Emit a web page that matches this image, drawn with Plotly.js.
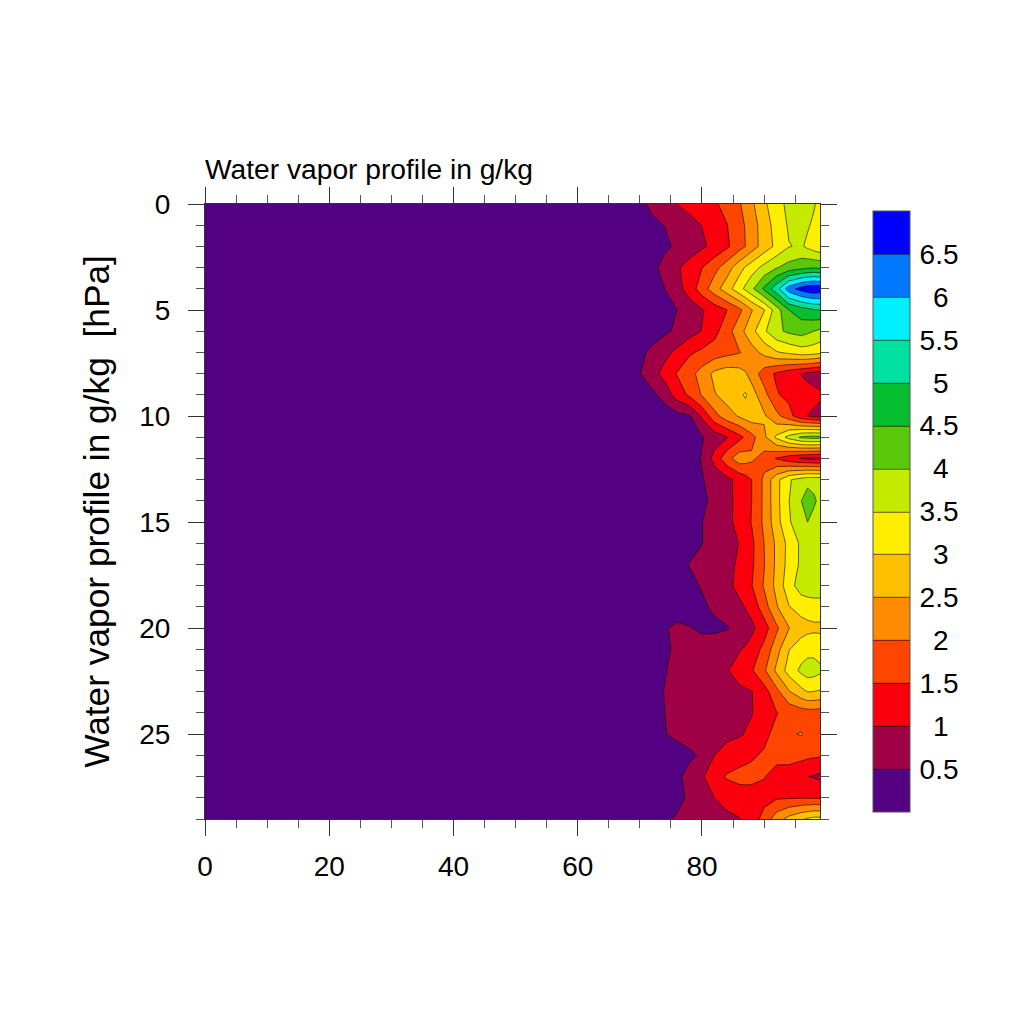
<!DOCTYPE html>
<html>
<head>
<meta charset="utf-8">
<script src="https://cdn.plot.ly/plotly-3.0.1.min.js"></script>
<style>html,body{margin:0;padding:0;background:#fff}</style>
</head>
<body>
<div id="chart" style="width:1024px;height:1024px"></div>
<script>
const xValues = [0,60,68,70,72,74,76,78,80,82,84,86,87,88,90,92,94,96,97,98,99];
const yValues = [0,1,2,3,4,5,6,7,8,9,10,11,12,13,14,15,16,17,18,19,20,21,22,23,24,25,26,27,28,29];
const row00 = [.02,.05,.2,.4,.59,.8,1.01,1.15,1.29,1.43,1.66,1.95,2.15,2.41,2.89,3.35,3.6,3.75,3.68,3.55,3.35];
const row01 = [.02,.05,.15,.3,.42,.51,.68,.84,1.01,1.24,1.48,1.83,2.03,2.26,2.75,3.2,3.56,3.65,3.55,3.42,3.3];
const row02 = [.02,.05,.1,.2,.3,.42,.57,.74,.92,1.14,1.41,1.8,2,2.25,2.72,3.12,3.48,3.56,3.4,3.25,3.12];
const row03 = [.02,.05,.15,.25,.38,.65,.93,1.2,1.49,1.83,2.26,2.8,3.05,3.27,3.65,3.97,4.2,4.35,4.42,4.45,4.42];
const row04 = [.02,.05,.1,.15,.35,.5,.83,1.22,1.75,2.28,2.77,3.32,3.6,3.89,4.58,5.3,6.28,6.7,6.85,6.9,6.85];
const row05 = [.02,.05,.1,.15,.25,.38,.5,.74,.96,1.22,1.49,1.88,2.15,2.47,2.97,3.75,4.5,4.75,4.85,4.95,5];
const row06 = [.02,.05,.1,.2,.3,.42,.58,.8,1.02,1.34,1.78,2.3,2.57,2.83,3.42,3.88,4.1,4.2,4.1,4,3.9];
const row07 = [.02,.05,.2,.4,.6,.86,1.12,1.43,1.6,1.73,1.85,1.97,2.1,2.3,2.64,2.95,3.1,3.25,3.25,3.2,3.12];
const row08 = [.02,.05,.3,.48,.82,1.17,1.53,1.82,2.2,2.62,2.78,2.7,2.55,2.3,1.75,1.42,1.19,.98,.9,.82,.75];
const row09 = [.02,.05,.1,.2,.38,.68,1.23,1.59,2.04,2.46,2.7,2.9,3.06,2.73,2.17,1.55,1.35,1.2,1.15,1.12,1.08];
const row10 = [.02,.03,.05,.1,.15,.25,.35,.45,1.08,1.82,2.28,2.55,2.7,2.8,2.58,2.14,1.7,1.13,1,.92,.85];
const row11 = [.02,.03,.04,.05,.08,.12,.2,.32,.47,.72,.97,1.35,1.58,1.83,2.38,3.1,3.68,4.08,4.15,4.18,4.15];
const row12 = [.02,.03,.04,.05,.08,.12,.2,.3,.53,1.17,1.81,2.28,2.22,2.1,1.8,1.47,1.17,.96,.92,.88,.85];
const row13 = [.02,.03,.04,.05,.1,.15,.2,.3,.47,.68,.88,1.15,1.3,1.5,2.1,2.84,3.45,3.7,3.81,3.8,3.8];
const row14 = [.02,.03,.04,.05,.1,.15,.2,.3,.4,.62,.86,1.15,1.3,1.5,2.1,2.84,3.49,4,4.3,4.1,3.85];
const row15 = [.02,.03,.04,.05,.1,.15,.2,.3,.49,.69,.88,1.14,1.3,1.53,2.1,2.8,3.45,3.8,4,3.8,3.75];
const row16 = [.02,.03,.04,.05,.1,.15,.2,.3,.49,.67,.84,1.01,1.15,1.38,2,2.6,3.15,3.6,3.7,3.75,3.75];
const row17 = [.02,.03,.05,.1,.15,.22,.35,.52,.64,.76,.89,1.06,1.2,1.41,1.97,2.6,3.18,3.6,3.68,3.7,3.7];
const row18 = [.02,.03,.04,.05,.1,.15,.25,.38,.54,.71,.88,1.13,1.3,1.48,2.05,2.65,3.3,3.75,3.82,3.85,3.85];
const row19 = [.02,.03,.04,.05,.1,.15,.2,.3,.42,.58,.74,.9,1.02,1.17,1.77,2.45,2.98,3.18,3.22,3.25,3.25];
const row20 = [.02,.05,.1,.2,.3,.45,.62,.52,.42,.4,.46,.67,.78,.89,1.27,1.9,2.48,2.8,2.87,2.9,2.9];
const row21 = [.02,.05,.1,.2,.35,.45,.55,.63,.71,.8,.88,.97,1.05,1.2,1.64,2.3,2.98,3.25,3.33,3.35,3.3];
const row22 = [.02,.05,.1,.2,.35,.48,.6,.7,.79,.88,.97,1.17,1.3,1.45,1.92,2.6,3.2,3.62,3.75,3.72,3.6];
const row23 = [.02,.05,.15,.25,.4,.51,.58,.64,.71,.78,.84,.91,.94,.98,1.29,1.85,2.45,2.85,3.01,2.99,2.95];
const row24 = [.02,.05,.1,.2,.35,.5,.58,.64,.71,.78,.84,.91,.94,.98,1.22,1.48,1.65,1.75,1.78,1.8,1.75];
const row25 = [.02,.05,.1,.2,.35,.48,.6,.68,.75,.83,.91,.95,1.02,1.1,1.4,1.62,1.95,2.03,1.85,1.8,1.75];
const row26 = [.02,.03,.05,.1,.15,.2,.3,.42,.56,1,1.15,1.3,1.38,1.45,1.55,1.62,1.7,1.65,1.6,1.57,1.55];
const row27 = [.02,.03,.05,.1,.2,.3,.4,.66,.94,1.3,1.55,1.65,1.65,1.62,1.52,1.35,1.25,1.08,1.005,.97,.9];
const row28 = [.02,.03,.05,.1,.2,.3,.38,.57,.78,1,1.15,1.24,1.27,1.3,1.36,1.44,1.46,1.47,1.46,1.46,1.45];
const row29 = [.02,.05,.1,.2,.3,.42,.55,.64,.73,.82,.9,.98,1.1,1.25,1.66,2.27,2.67,2.95,3.05,3.15,3.15];
const bandColors = ['#540082','#A00046','#FA000F','#FF4500','#FF8C00','#FFC000','#FFEE00','#C4EA00','#5AC80A','#06BE30','#00E0A0','#00F0FF','#0078FF','#0000FF'];
const levelTicks = [0.5,1,1.5,2,2.5,3,3.5,4,4.5,5,5.5,6,6.5];
const levelLabels = ['0.5','1','1.5','2','2.5','3','3.5','4','4.5','5','5.5','6','6.5'];
const titleText = 'Water vapor profile in g/kg';
const yTitleText = 'Water vapor profile in g/kg\u00A0\u00A0[hPa]';

const zValues = [row00,row01,row02,row03,row04,row05,row06,row07,row08,row09,row10,row11,row12,row13,row14,row15,row16,row17,row18,row19,row20,row21,row22,row23,row24,row25,row26,row27,row28,row29];
const scale = [];
bandColors.forEach((c,i)=>{scale.push([i/bandColors.length,c]);scale.push([(i+1)/bandColors.length,c]);});
const pad = s => s.length===1 ? '\u00A0\u2009'+s : s;
const font = 'Liberation Sans, Helvetica, Arial, sans-serif';
const tickColor = '#333';

const trace = {
  type:'contour', x:xValues, y:yValues, z:zValues,
  zauto:false, zmin:0, zmax:7, colorscale:scale,
  autocontour:false,
  contours:{start:0.5,end:6.5,size:0.5,coloring:'fill',showlines:true},
  line:{color:'#000',width:0.6,smoothing:0},
  hoverinfo:'skip',
  colorbar:{
    x:(873-205)/615, xanchor:'left', xref:'paper',
    y:0.5, yanchor:'middle', yref:'paper',
    thickness:37, thicknessmode:'pixels',
    len:601, lenmode:'pixels',
    xpad:0, ypad:0,
    outlinewidth:1, outlinecolor:'#555', borderwidth:0,
    ticks:'outside', ticklen:4, tickcolor:'rgba(0,0,0,0)',
    tickmode:'array', tickvals:levelTicks, ticktext:levelLabels.map(pad),
    tickfont:{family:font,size:28,color:'#000'}
  }
};
const layout = {
  width:1024, height:1024,
  margin:{l:205,r:204,t:204,b:205,pad:0},
  paper_bgcolor:'#fff', plot_bgcolor:'#fff',
  font:{family:font,color:'#000'},
  title:{text:titleText,font:{family:font,size:28.2,color:'#000'},xref:'paper',x:0,xanchor:'left',yref:'container',y:1-169/1024,yanchor:'middle',pad:{l:0,r:0,t:0,b:0}},
  xaxis:{range:[0,99],autorange:false,tickmode:'linear',tick0:0,dtick:20,ticks:'outside',ticklen:16,tickwidth:1,tickcolor:tickColor,
    showline:true,linecolor:'#333',linewidth:1,mirror:'ticks',showgrid:false,zeroline:false,
    tickfont:{family:font,size:28,color:'#000'},ticklabelstandoff:6,
    minor:{tickmode:'linear',dtick:5,ticks:'outside',ticklen:8,tickwidth:1,tickcolor:'#555',showgrid:false}},
  yaxis:{range:[29,0],autorange:false,tickmode:'linear',tick0:0,dtick:5,ticks:'outside',ticklen:16,tickwidth:1,tickcolor:tickColor,
    showline:true,linecolor:'#333',linewidth:1,mirror:'ticks',showgrid:false,zeroline:false,
    tickfont:{family:font,size:28,color:'#000'},ticklabelstandoff:12,
    minor:{tickmode:'linear',dtick:1,ticks:'outside',ticklen:8,tickwidth:1,tickcolor:'#555',showgrid:false},
    title:{text:yTitleText,font:{family:font,size:35.3,color:'#000'},standoff:18}}
};
Plotly.newPlot('chart',[trace],layout,{displayModeBar:false,staticPlot:true});
</script>
</body>
</html>
